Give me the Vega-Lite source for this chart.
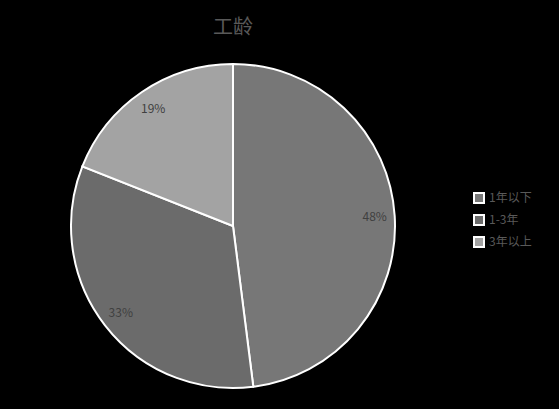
{
  "$schema": "https://vega.github.io/schema/vega-lite/v6.json",
  "autosize": "none",
  "width": 466,
  "height": 324,
  "padding": {"left": 0, "top": 64, "right": 93, "bottom": 21},
  "background": "#000000",
  "title": {
    "text": "工龄",
    "anchor": "middle",
    "offset": 22,
    "fontSize": 20,
    "fontWeight": "normal",
    "color": "#595959",
    "font": "Noto Sans CJK SC"
  },
  "data": {
    "values": [
      {"group": "1年以下", "value": 48, "label": "48%", "idx": 1},
      {"group": "1-3年", "value": 33, "label": "33%", "idx": 2},
      {"group": "3年以上", "value": 19, "label": "19%", "idx": 3}
    ]
  },
  "encoding": {
    "theta": {"field": "value", "type": "quantitative", "stack": true},
    "order": {"field": "idx", "type": "quantitative"},
    "color": {
      "field": "group",
      "type": "nominal",
      "sort": ["1年以下", "1-3年", "3年以上"],
      "scale": {"domain": ["1年以下", "1-3年", "3年以上"], "range": ["#777777", "#6b6b6b", "#a3a3a3"]},
      "legend": {
        "title": null,
        "orient": "none",
        "legendX": 473,
        "legendY": 128,
        "symbolType": "square",
        "symbolSize": 100,
        "symbolStrokeColor": "#ffffff",
        "symbolStrokeWidth": 2,
        "labelColor": "#595959",
        "labelFontSize": 12,
        "labelFont": "Noto Sans CJK SC",
        "rowPadding": 4
      }
    }
  },
  "layer": [
    {"mark": {"type": "arc", "stroke": "#ffffff", "strokeWidth": 2}},
    {
      "mark": {"type": "text", "radius": 142, "fontSize": 12, "font": "Noto Sans CJK SC", "color": "#404040"},
      "encoding": {"text": {"field": "label"}, "color": {"value": "#404040"}}
    }
  ],
  "config": {"view": {"stroke": null}}
}
